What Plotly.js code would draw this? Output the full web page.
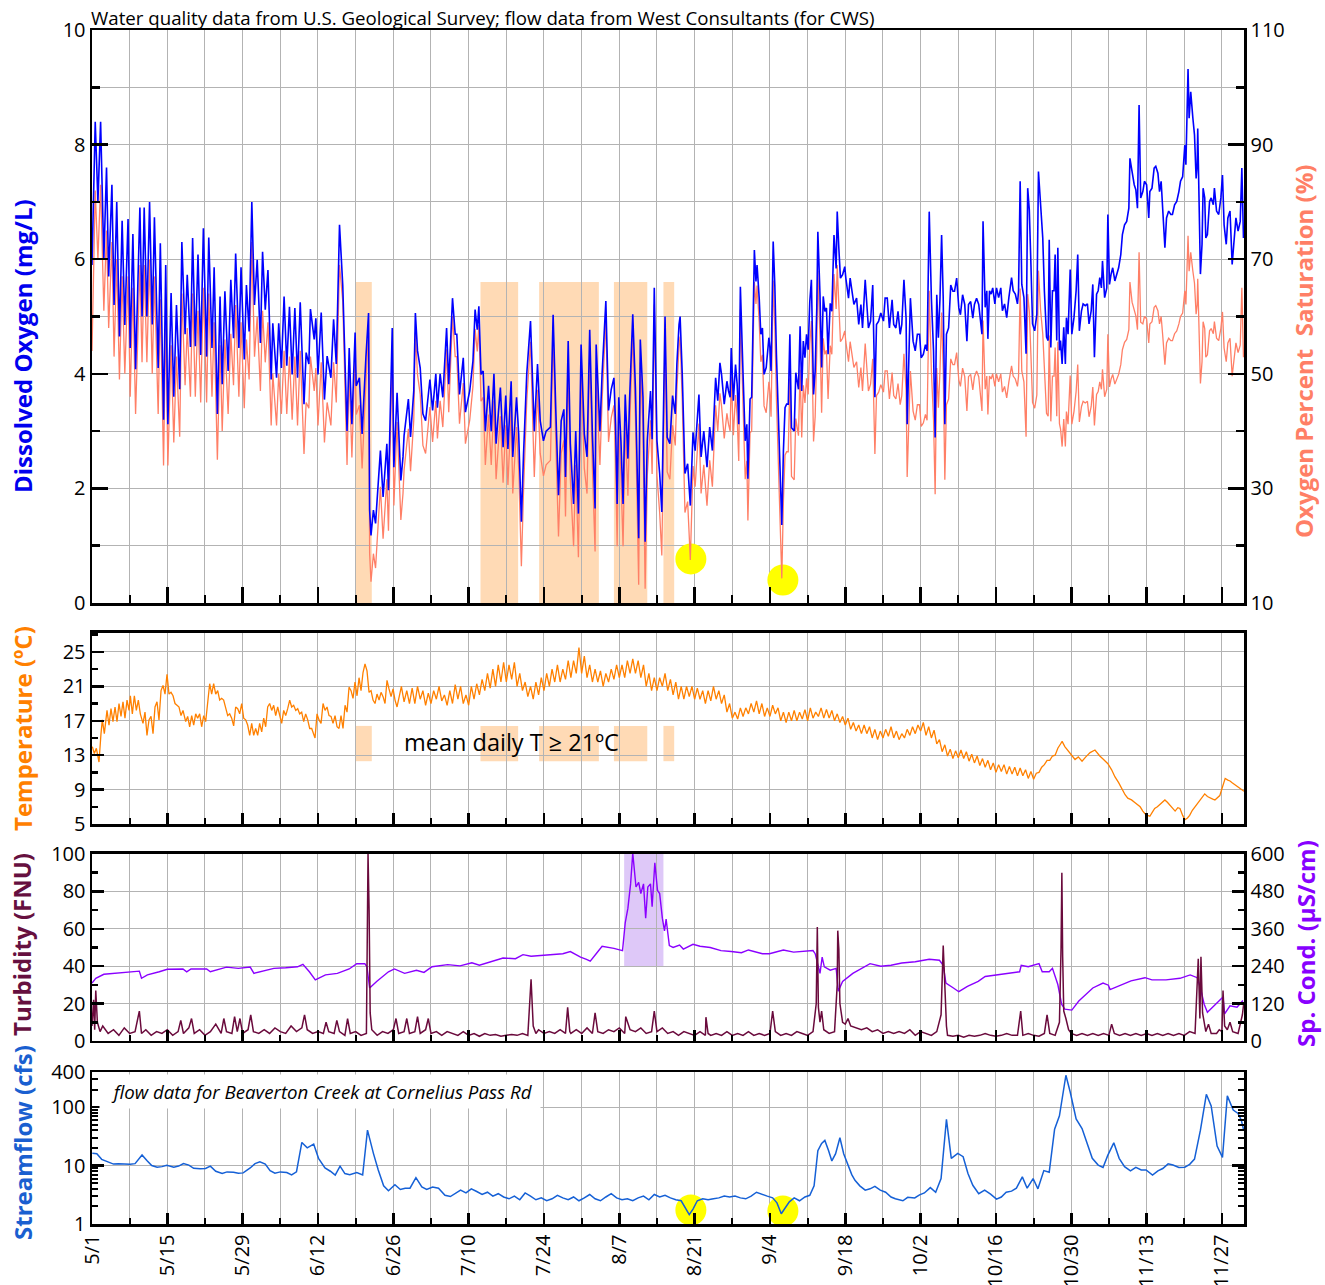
<!DOCTYPE html>
<html><head><meta charset="utf-8">
<script src="https://cdn.plot.ly/plotly-3.0.1.min.js"></script>
<style>html,body{margin:0;padding:0;background:#fff}#chart{width:1325px;height:1285px}</style>
</head><body><div id="chart"></div>
<script>
// ---------- DATA (days after 5/1) ----------
const doDay = [0.0,0.6,1.1,1.6,2.2,2.7,3.1,3.7,4.1,4.6,5.1,5.6,6.1,6.7,7.1,7.6,8.1,8.9,9.3,9.7,10.2,10.7,11.2,11.6,12.3,12.7,13.3,13.7,14.1,14.7,15.2,15.7,16.3,16.7,17.3,17.7,18.3,18.7,19.2,19.7,20.2,20.7,21.3,21.7,22.3,22.7,23.3,23.8,24.2,24.7,25.3,25.8,26.3,26.7,27.3,27.7,28.3,28.7,29.2,29.7,30.2,30.7,31.3,31.7,32.2,32.7,33.3,33.6,34.3,34.7,35.2,35.7,36.2,36.7,37.2,37.7,38.2,38.7,39.4,39.8,40.3,40.6,41.3,41.6,42.0,42.6,43.2,43.7,44.4,44.9,45.4,46.0,
46.6,47.4,47.8,48.3,48.9,49.1,49.7,50.2,50.9,51.4,51.6,51.85,52.3,52.7,53.6,54.1,54.8,55.1,55.8,56.1,56.7,57.4,57.8,58.0,58.8,59.2,59.8,60.1,60.5,61.0,61.5,62.0,62.8,63.3,63.9,64.2,64.7,65.2,65.9,66.3,67.0,67.5,67.8,68.3,69.0,69.4,70.2,70.8,71.2,71.6,71.9,72.3,72.7,73.1,73.7,74.2,74.7,75.1,75.6,75.9,76.4,76.9,77.3,77.9,78.2,78.9,79.3,79.8,80.2,80.8,81.5,82.2,82.8,83.3,83.9,84.4,85.2,85.7,86.2,86.7,87.2,87.7,88.0,88.5,88.9,89.5,89.9,90.4,90.9,91.5,92.0,92.5,93.0,93.5,93.7,94.4,94.8,95.5,96.0,96.5,97.0,97.3,97.6,97.9,98.3,98.7,99.1,99.6,99.9,100.5,101.0,101.6,101.9,102.4,102.8,103.2,103.8,104.1,104.5,105.0,105.5,105.9,106.5,106.9,107.4,107.9,108.4,108.7,109.1,109.3,109.7,110.2,110.7,111.2,111.7,112.1,112.8,113.2,113.7,114.3,114.8,115.3,115.9,116.3,
116.7,117.0,117.5,118.0,118.3,118.6,118.8,119.2,119.6,119.9,120.2,120.5,121.0,121.4,121.7,121.9,122.3,122.6,122.9,123.1,123.4,123.6,124.0,124.3,124.6,124.9,125.3,125.8,126.0,126.2,126.6,126.9,127.2,127.6,127.9,128.2,128.5,128.8,129.1,129.4,129.7,130.0,130.5,130.8,131.3,131.6,131.9,132.2,132.5,132.8,133.1,133.4,133.7,134.1,134.4,134.7,134.9,135.3,135.6,135.9,136.2,136.5,136.8,137.2,137.5,137.9,138.3,138.5,138.8,139.1,139.5,139.9,140.1,140.6,140.9,141.2,141.6,142.1,142.5,142.9,143.2,143.7,144.1,144.3,144.7,
145.1,145.5,145.8,146.2,146.6,147.1,147.4,147.8,148.2,148.7,149.0,149.4,149.8,150.2,150.5,150.9,151.3,151.5,151.9,152.1,152.6,153.0,153.4,153.8,154.1,154.5,154.9,155.2,155.6,156.0,156.4,156.7,157.0,157.3,157.6,157.9,158.2,158.5,158.8,159.2,159.6,160.0,160.3,160.7,161.1,161.4,161.8,162.2,162.6,162.9,163.3,163.7,164.0,164.4,164.8,
165.4,165.6,166.0,166.3,166.5,166.8,167.1,167.4,167.8,168.1,168.5,168.9,169.2,169.6,170.0,170.4,170.9,171.2,171.6,172.0,172.2,172.5,172.8,173.2,173.6,173.9,174.2,174.5,174.8,175.2,175.6,175.9,176.3,176.7,177.0,177.4,177.7,177.9,178.2,178.5,178.8,179.0,179.3,179.5,179.8,180.0,180.3,180.6,180.9,181.1,181.4,181.8,182.1,182.5,182.9,183.2,183.5,183.9,184.2,184.6,185.0,185.3,185.7,186.0,186.3,186.7,187.0,187.3,187.6,187.8,188.2,188.6,188.8,189.1,189.4,189.7,190.1,190.4,190.8,191.2,191.5,191.9,192.3,192.7,192.9,193.3,193.7,194.0,194.3,194.6,194.9,195.3,195.6,196.0,196.4,196.6,197.0,197.4,197.7,198.1,198.4,198.7,199.0,199.4,199.7,200.1,200.5,200.8,201.2,201.6,202.0,202.3,202.7,203.1,203.3,203.7,203.9,204.2,204.6,204.9,205.2,205.4,205.5,205.8,206.0,206.3,206.5,206.8,207.0,207.3,207.7,208.0,208.4,208.6,209.0,209.4,209.8,210.1,210.4,210.8,211.1,211.5,211.9,212.2,212.6,213.0,213.4,213.7,214.0];

// Dissolved oxygen, mg/L
const doVal = [5.9,8.4,7.0,8.4,6.0,7.6,5.7,7.3,5.2,7.0,4.65,6.67,4.85,6.7,4.45,6.44,4.08,6.9,5.0,6.9,5.0,7.0,4.86,6.73,4.1,6.28,3.2,5.9,3.12,5.41,3.6,5.2,3.73,6.3,4.69,5.73,4.47,6.37,4.48,6.08,4.33,6.54,4.3,6.38,4.45,5.86,3.3,5.35,3.82,5.44,4.05,5.64,4.62,6.1,4.45,5.86,4.25,5.55,4.74,7.0,5.2,5.99,4.54,6.13,5.12,5.81,3.9,4.88,3.93,4.88,4.1,5.35,4.14,5.17,3.99,5.15,3.93,5.25,3.47,4.37,4.17,5.13,4.6,4.97,3.99,5.07,3.55,4.31,3.93,4.95,4.17,6.6,
5.55,3.0,4.45,3.12,4.72,3.79,3.93,2.95,4.28,5.06,1.62,1.18,1.62,1.39,2.66,1.85,2.78,1.97,4.8,2.37,3.67,2.14,2.55,2.92,3.56,2.9,3.7,5.06,4.4,4.1,3.3,3.18,3.9,3.36,4.0,3.41,4.0,3.59,4.8,3.82,5.32,4.69,4.69,3.64,4.28,3.33,3.7,4.22,5.12,4.77,5.18,3.99,4.05,3.0,3.79,3.0,4.0,2.78,3.41,3.76,2.72,3.62,2.69,3.87,2.55,3.59,2.95,1.42,2.6,4.0,4.92,3.0,4.17,3.18,2.83,3.0,3.07,5.03,3.36,1.88,3.18,3.38,2.2,4.57,2.78,1.73,3.0,1.56,4.51,2.95,2.55,4.77,2.95,1.65,4.51,3.0,4.0,5.27,3.36,3.73,3.93,3.12,1.73,3.59,2.83,1.73,3.64,2.52,3.53,5.04,3.73,1.13,4.6,3.59,1.07,2.83,3.7,2.86,5.5,2.83,2.26,1.59,5.0,2.89,2.78,3.62,3.3,4.17,4.86,5.0,3.99,2.26,2.43,1.7,2.98,2.66,3.64,2.55,3.0,2.37,3.07,2.66,3.93,3.53,
4.19,3.99,3.47,3.87,3.70,3.59,4.45,3.53,4.16,3.82,3.12,5.52,3.99,2.83,3.12,2.17,3.56,3.59,5.09,6.16,5.61,5.90,5.32,4.69,4.80,3.99,4.11,4.63,4.45,4.05,6.31,5.55,4.34,3.18,2.08,1.36,2.66,3.41,3.47,3.47,4.69,3.06,3.0,4.02,3.73,4.83,3.70,4.57,4.28,4.69,4.42,5.26,5.64,3.64,4.05,5.15,6.48,5.38,4.11,5.35,5.09,5.15,4.34,5.23,5.09,6.42,5.84,6.83,6.19,5.67,5.73,5.87,5.67,5.32,5.67,5.50,5.21,5.32,4.86,5.21,4.80,5.64,5.03,4.80,4.92,
5.55,3.59,4.86,4.92,5.06,4.92,5.32,5.32,4.80,5.29,4.86,4.80,5.09,4.69,4.86,5.64,4.97,3.12,4.97,5.32,4.57,4.40,4.69,4.69,4.28,4.34,4.51,4.40,6.83,5.32,4.40,2.89,5.38,4.63,5.32,6.42,5.32,3.12,4.69,4.80,5.55,5.44,5.44,5.67,5.15,5.03,5.38,5.21,4.57,5.21,5.26,4.97,5.21,5.32,5.21,
4.69,6.66,5.16,5.45,4.61,5.45,5.39,5.50,5.22,5.50,5.33,5.50,5.10,5.22,4.98,5.33,5.68,5.45,5.39,5.22,5.45,7.36,5.56,5.33,4.35,7.24,6.86,5.91,4.87,4.75,5.04,7.53,6.89,6.37,5.45,4.64,4.58,6.34,4.46,5.45,5.45,6.08,4.58,6.20,4.41,4.58,4.17,4.81,4.17,4.98,4.69,5.82,4.69,4.98,5.45,6.08,4.75,5.10,5.22,5.19,5.22,4.87,5.10,5.56,4.29,5.39,5.45,5.68,5.50,5.97,5.33,5.50,6.78,5.56,5.74,5.85,5.62,5.74,5.85,6.08,6.43,6.60,6.66,6.89,7.76,7.53,7.30,7.21,6.89,8.69,7.07,7.18,7.36,7.30,6.72,7.18,7.24,7.59,7.62,7.50,7.18,7.36,6.89,6.20,6.72,6.84,6.78,6.78,6.95,7.01,7.18,7.36,7.44,7.99,7.65,9.32,8.46,8.92,8.46,8.17,7.41,7.65,8.28,7.07,5.74,6.26,7.24,7.07,6.37,6.43,7.01,7.07,6.95,7.24,6.84,6.78,7.07,7.47,6.60,6.26,6.72,6.84,5.91,6.26,6.72,6.49,6.66,7.59,6.37];

// Oxygen percent saturation, %
const satPct = [54,82,70,83,61,75,58,73,53,70,49,67,50,67,46,65,43,69,52,69,52,70,50,67,43,63,34,60,34,55,38,53,39,64,48,58,46,64,46,61,45,65,45,64,46,59,35,55,40,56,43,57,48,62,46,59,44,56,49,73,53,60,47,61,52,59,41,50,41,50,43,54,43,53,42,53,41,54,36,45,44,53,47,51,41,52,38,45,41,52,45,69,
62.7,34.1,50.3,35.4,53.4,42.9,44.5,33.5,48.4,57.2,18.6,13.7,18.6,16.1,30.3,21.2,31.6,22.6,54.3,27,41.6,24.5,29.1,33.2,40.4,33,41.9,57.2,49.8,46.4,37.5,36.1,44.2,38.1,45.3,38.7,45.3,40.7,54.3,43.3,60.1,53,53,41.3,48.4,37.8,41.9,47.8,57.8,53.9,58.5,45.2,45.9,34.1,42.9,34.1,45.3,31.6,38.7,42.6,31,41,30.6,43.8,29.1,40.7,33.5,16.4,29.6,45.3,55.6,32,47.2,36.1,32.2,34.1,34.9,56.8,38.1,21.6,36.1,38.4,25.1,51.7,31.6,19.9,34.1,18,51,33.5,29.1,53.9,33.5,19,51,34.1,45.3,59.5,38.1,42.3,44.5,35.4,19.9,40.7,32.2,19.9,41.3,28.7,40,56.9,42.3,13.2,52,40.7,12.5,32.2,41.9,32.5,62.1,32.2,25.8,18.3,56.5,32.9,31.6,41,37.5,47.2,54.9,56.5,45.2,25.8,27.7,17.5,33.9,30.3,41.3,29.1,34.1,27,34.9,30.3,44.5,40,
46.6,44.4,38.7,43.1,41.2,40,49.5,39.3,46.3,42.5,34.8,61.2,44.4,31.6,34.8,24.4,39.7,40,56.5,66,62.2,65.4,59,52.1,53.3,44.4,43.2,48.6,46.7,42.5,66.3,58.3,45.6,33.4,21.8,14.3,27.9,35.8,36.4,36.4,49.2,32.1,31.5,42.2,39.2,50.7,38.9,48,44.9,49.2,46.4,55.2,59.2,38.2,42.5,54.1,68,56.5,43.2,56.2,53.4,54.1,45.6,54.9,53.4,67.4,61.3,69,62,55.6,56.2,57.5,55.6,52.1,55.6,53.9,51.1,52.1,47.6,51.1,47,55.3,49.3,47,48.2,
52.6,36,46.2,46.8,48.1,46.8,50.5,50.5,45.6,50.2,46.2,45.6,48.3,44.6,46.2,53.5,47.2,32,47.2,50.5,43.5,41.9,44.6,44.6,40.8,41.4,42.9,41.9,64.5,50.5,41.9,29,51,44.1,50.5,60.7,50.5,31.5,44.6,45.6,52.6,51.6,51.6,53.7,48.9,47.8,51,49.5,43.5,49.5,49.9,47.2,49.5,50.5,49.5,
43.5,59.3,47.3,49.6,42.9,49.6,49.1,50,47.8,50,48.6,50,46.8,47.8,45.8,48.6,51.4,49.6,49.1,47.8,49.6,64.9,50.5,48.6,39,63.9,60.9,53.3,45,44,46.3,68,61.1,57,49.6,43.1,42.6,56.7,41.7,49.6,49.6,54.6,42.6,55.6,41.3,40.4,37.3,42.1,37.3,43.4,41.2,49.7,41.2,43.4,46.9,51.6,41.6,44.3,45.2,44.9,45.2,42.5,44.3,47.7,41,46.4,46.9,48.6,47.3,50.8,46,47.3,56.9,47.7,49.1,49.9,48.2,49.1,49.9,51.6,54.2,55.5,56,57.7,66,62.5,60.8,60.1,57.7,71.2,59,58.7,60,59.6,55.4,58.7,59.1,61.6,61.9,61,58.7,60,56.6,51.6,55.4,56.2,55.8,55.8,57,57.5,58.7,60,60.6,64.5,62.1,74.1,67.9,71.2,67.9,65.8,60.4,62.1,66.6,57.9,48.3,52.1,59.1,57.9,52.9,53.3,57.5,57.9,57,59.1,56.2,55.8,57.9,60.8,54.5,52.1,55.4,56.2,49.6,52.1,55.4,53.7,55,65,52.9];

// Water temperature, deg C  [day, value]
const temperature = [[0.06,14.0],[0.43,13.2],[0.81,13.8],[1.30,12.2],[1.67,15.5],[1.92,17.1],[2.29,15.5],[2.54,17.3],[2.79,18.2],[3.16,16.5],[3.53,18.4],[3.90,16.9],[4.28,18.6],[4.65,16.9],[5.02,19.0],[5.39,17.5],[5.76,19.2],[6.13,17.3],[6.51,19.4],[6.88,18.2],[7.13,19.9],[7.50,17.8],[7.87,19.9],[8.24,18.2],[8.61,19.4],[8.98,17.8],[9.48,16.7],[9.85,18.0],[10.22,15.3],[10.59,17.1],[10.97,17.5],[11.34,15.5],[11.71,18.6],[12.08,19.2],[12.45,17.1],[12.83,20.5],[13.20,21.1],[13.57,20.1],[13.94,22.4],[14.31,20.1],[14.68,20.3],[15.06,19.9],[15.43,19.0],[15.80,18.8],[16.17,18.6],[16.54,17.6],[16.91,18.2],[17.41,16.9],[17.78,17.5],[18.15,16.3],[18.53,17.6],[18.90,16.5],[19.27,17.8],[19.64,17.3],[20.01,17.8],[20.38,16.3],[20.76,17.6],[21.13,16.9],[21.50,19.4],[21.87,21.3],[22.24,20.1],[22.61,21.3],[22.99,20.1],[23.36,20.5],[23.73,19.4],[24.10,19.6],[24.47,19.4],[24.85,18.6],[25.22,17.6],[25.59,17.8],[25.96,17.3],[26.33,16.4],[26.70,18.6],[27.08,18.4],[27.45,17.8],[27.82,19.0],[28.19,17.3],[28.56,17.1],[28.93,16.5],[29.31,15.3],[29.68,16.7],[30.05,15.3],[30.42,16.1],[30.79,15.3],[31.16,16.7],[31.54,15.7],[31.91,17.3],[32.28,16.3],[32.65,18.6],[33.02,19.0],[33.40,18.2],[33.77,18.8],[34.14,17.6],[34.51,18.6],[34.88,17.8],[35.25,16.7],[35.63,18.2],[36.00,17.6],[36.37,18.4],[36.74,19.4],[37.11,18.6],[37.48,18.8],[37.86,18.2],[38.23,18.4],[38.60,17.8],[38.97,18.0],[39.34,16.9],[39.71,17.8],[40.09,17.1],[40.46,16.1],[40.83,16.1],[41.20,15.5],[41.45,15.0],[41.82,17.8],[42.19,17.1],[42.57,16.7],[42.94,19.0],[43.31,18.2],[43.68,18.6],[44.05,17.6],[44.42,17.5],[44.80,16.7],[45.17,17.6],[45.54,16.3],[45.91,16.1],[46.28,17.6],[46.65,16.1],[47.03,18.8],[47.40,18.0],[47.77,20.9],[48.14,20.5],[48.51,19.6],[48.88,21.5],[49.26,19.9],[49.63,22.0],[50.00,20.5],[50.37,22.6],[50.74,23.6],[51.11,22.8],[51.49,20.3],[51.86,20.5],[52.23,19.4],[52.60,19.0],[52.97,20.1],[53.35,19.4],[53.72,20.3],[54.09,19.8],[54.46,19.0],[54.83,21.7],[55.20,20.7],[55.58,19.8],[55.95,20.7],[56.32,19.4],[56.69,18.6],
[57,19.5],[57.5,21.0],[58,19.2],[58.5,20.5],[59,19.0],[59.5,20.8],[60,19.0],[60.5,21.0],[61,19.5],[61.5,20.5],[62,18.8],[62.5,20.2],[63,19.0],[63.5,20.5],[64,19.5],[64.5,21.0],[65,19.3],[65.5,20.0],[66,18.8],[66.5,20.5],[67,19.0],[67.5,21.2],[68,19.5],[68.5,21.0],[69,19.0],[69.5,20.0],[70,18.8],[70.5,21.0],[71,19.5],[71.5,21.3],[72,20.0],[72.5,21.8],[73,20.5],[73.5,22.5],[74,20.8],[74.5,23.0],[75,21.0],[75.5,23.5],[76,21.5],[76.5,23.8],[77,21.5],[77.5,23.5],[78,21.8],[78.5,23.8],[79,21.0],[79.5,22.5],[80,20.5],[80.5,21.5],[81,19.8],[81.5,21.0],[82,19.5],[82.5,21.5],[83,20.0],[83.5,22.0],[84,20.5],[84.5,22.5],[85,21.0],[85.5,23.0],[86,21.5],[86.5,23.5],[87,21.5],[87.5,23.0],[88,21.8],[88.5,24.0],[89,22.0],[89.5,24.0],[90,22.5],[90.5,25.5],[91,22.5],[91.5,24.5],[92,22.0],[92.5,23.5],[93,21.5],[93.5,23.0],[94,21.5],[94.5,22.8],[95,21.0],[95.5,22.5],[96,21.5],[96.5,23.0],[97,21.8],[97.5,23.5],[98,22.0],[98.5,23.5],[99,22.0],[99.5,24.0],[100,22.5],[100.5,24.2],[101,22.5],[101.5,24.0],[102,22.0],[102.5,23.5],[103,21.0],[103.5,22.5],[104,20.5],[104.5,22.0],[105,20.5],[105.5,22.0],[106,21.0],[106.5,22.5],[107,20.5],[107.5,21.8],[108,20.0],[108.5,21.5],[109,19.5],[109.5,21.0],[110,19.5],[110.5,21.0],[111,19.8],[111.5,21.0],[112,19.5],[112.5,20.8],[113,19.5],[113.5,20.5],[114,19.0],[114.5,20.5],[115,19.3],[115.5,21.0],[116,19.5],[116.5,20.5],[117,19.0],[117.5,20.0],[118,18.0],[118.5,19.0],[119,17.3],[119.5,18.0],[120,17.2],[120.5,18.5],[121,17.5],[121.5,18.5],[122,17.8],[122.5,19.0],[123,18.0],[123.5,19.3],[124,17.8],[124.5,19.0],[125,17.5],[125.5,18.5],[126,17.5],[126.5,18.8],[127,17.8],[127.5,18.5],[128,17.0],[128.5,18.0],[129,16.8],[129.5,18.0],[130,17.0],[130.5,18.2],[131,17.0],[131.5,18.0],[132,17.2],[132.5,18.3],[133,17.0],[133.5,18.5],[134,17.3],[134.5,18.0],[135,17.5],[135.5,18.5],[136,17.3],[136.5,18.3],[137,17.3],[137.5,18.2],[138,17.0],[138.5,17.8],[139,16.8],[139.5,17.5],[140,16.5],[140.5,17.3],[141,16.0],[141.5,16.8],[142,15.8],[142.5,16.5],[143,15.5],[143.5,16.5],[144,15.5],[144.5,16.3],[145,15.0],[145.5,16.0],[146,14.8],[146.5,15.8],[147,15.0],[147.5,16.0],[148,15.2],[148.5,16.3],[149,15.0],[149.5,15.8],[150,14.8],[150.5,15.5],[151,15.0],[151.5,16.0],[152,15.3],[152.5,16.3],[153,15.5],[153.5,16.5],[154,15.8],[154.5,16.8],
[155,15.3],[155.5,16.3],[156,15.0],[156.5,15.9],[157,14.3],[157.5,14.8],[158,13.4],[158.5,14.2],[159,12.9],[159.5,13.7],[160,12.6],[160.5,13.5],[161,12.7],[161.5,13.6],[162,12.6],[162.5,13.4],[163,12.3],[163.5,13.1],[164,12.1],[164.5,12.9],[165,11.8],[165.5,12.6],[166,11.6],[166.5,12.4],[167,11.3],[167.5,12.1],[168,11.0],[168.5,11.9],[169,11.1],[169.5,11.9],[170,10.8],[170.5,11.7],[171,10.8],[171.5,11.6],[172,10.6],[172.5,11.5],[173,10.6],[173.5,11.3],[174,10.3],[174.5,11.1],[175,10.2],[175.5,10.9],[176,11.0],[176.5,11.6],[177,11.9],[177.5,12.4],[178,12.4],[178.5,12.9],[179,13.0],[179.5,13.8],[180,14.3],[180.3,14.6],[180.8,14.0],[181.4,13.5],[182,13.0],[182.7,12.5],[183.3,12.8],[184,12.3],[184.7,12.8],[185.5,13.3],[186.4,13.6],[187.3,12.9],[188,12.5],[188.8,12.0],[189.5,11.3],[190.1,10.5],[190.8,9.8],[191.4,9.0],[192,8.4],[192.5,8.0],[193.2,7.8],[193.8,7.5],[194.3,7.2],[194.8,7.0],[195.3,6.5],[195.7,6.2],[196.2,6.0],[196.6,5.9],[197.1,6.4],[197.5,6.8],[198,7.0],[198.5,7.3],[199,7.6],[199.4,7.8],[199.9,7.5],[200.3,7.2],[200.8,6.8],[201.3,6.5],[201.8,6.9],[202.2,6.8],[202.7,6.0],[203.1,5.5],[203.6,5.7],[204,6.0],[204.5,6.6],[205,7.0],[205.5,7.4],[205.9,7.8],[206.4,8.2],[206.8,8.5],[207.3,8.2],[207.8,8.0],[208.3,7.9],[208.7,7.8],[209.2,8.1],[209.6,8.3],[210.1,9.3],[210.6,10.3],[211.1,10.1],[211.5,10.0],[211.9,9.8],[212.5,9.5],[213,9.3],[213.6,9.0],[214.1,8.8]];

// Turbidity, FNU  [day, value]
const turbidity = [[0,8],[0.3,22],[0.5,6],[0.7,27],[1,10],[1.5,5],[2,8],[3,4],[4,6],[5,3],[6,7],[7,4],[8,5],[8.8,16],[9.2,4],[10,6],[11,3],[12,5],[13,4],[14,6],[15,3],[16,5],[16.5,11],[17,4],[18,7],[18.5,12],[19,4],[20,6],[21,3],[22,5],[23,9],[24,4],[24.5,12],[25,5],[26,4],[26.5,13],[27,5],[27.5,12],[28,4],[29,6],[29.5,14],[30,5],[31,4],[32,6],[33,4],[34,7],[35,5],[36,4],[37,8],[38,5],[39,7],[39.5,14],[40,6],[41,4],[42,5],[43,4],[43.5,10],[44,5],[45,4],[45.5,11],[46,5],[47,3],[47.5,12],[48,4],[49,5],[50,3],[51,4],[51.3,100],[51.5,70],[51.7,15],[52,6],[53,3],[54,5],[55,4],[56,6],[56.5,12],[57,4],[58,5],[58.5,12],[59,4],[60,5],[60.5,13],[61,4],[62,6],[62.5,12],[63,4],[64,5],[65,3],[66,5],[67,4],[68,3],[69,5],[70,3],[71,4],[72,2.5],[73,4],[74,3],[75,3.5],[76,2.5],[77,3],[78,3.5],[79,3],[80,4],[81,3],[81.6,33],[82,8],[82.5,4],[83,6],[84,4],[85,5],[86,4],[87,6],[88,4],[88.4,18],[88.8,5],[89,4],[90,6],[91,4],[92,7],[93,4],[93.5,15],[94,5],[95,4],[96,6],[97,5],[98,7],[99,4],[99.2,13],[100,6],[101,5],[102,7],[103,4],[104,5],[104.5,16],[105,5],[106,7],[107,4],[108,5],[109,3],[110,5],[111,4],[112,3],[113,5],[114,3],[114.1,12.7],[114.5,4],[115,3],[116,4],[117,3],[118,5],[119,3],[120,4],[121,3],[122,5],[123,3],[124,4],[125,3],[126,4],[126.5,16],[127,5],[128,3],[129,4],[130,3],[131,5],[132,4],[133,3],[134,5],[134.6,20],[134.8,61],[135,18],[135.3,10],[135.6,16],[136,6],[137,4],[138,5],[138.5,30],[138.6,59],[138.8,49],[139,20],[139.5,10],[140,9],[140.5,12],[141,8],[142,7],[143,6],[144,7],[145,5],[146,6],[147,4],[148,5],[149,4],[150,5],[151,4],[152,6],[153,3],[154,5],[155,4],[156,3],[157,5],[157.8,14],[158.2,51],[158.5,27],[158.8,8],[159,3],[160,2.5],[161,3],[162,2],[163,3],[164,2.5],[165,3],[166,4],[167,3],[168,2.5],[169,3],[170,4],[171,3],[172,3],[172.6,16],[173,3],[174,4],[175,3],[176,2.5],[177,4],[177.5,14],[178,4],[179,3],[179.8,10],[180.1,50],[180.25,90],[180.4,45],[180.6,16],[181,12],[181.5,6],[182,4],[183,3],[184,4],[185,3],[186,4],[187,3],[188,4],[189,3],[189.5,9],[190,4],[191,3],[192,4],[193,3],[194,4],[195,3],[196,4],[197,3],[198,4],[199,3],[200,4],[201,3],[202,4],[203,3],[204,5],[205,4],[205.6,44],[205.9,12],[206.1,45],[206.4,15],[206.8,8],[207,5],[207.5,9],[208,4],[209,4],[209.5,6],[210,5],[210.2,27],[210.5,8],[211,6],[211.5,10],[212,5],[213,4],[213.8,14],[214.05,20]];

// Specific conductance, uS/cm  [day, value]
const conductance = [[0,186],[0.7,201],[2.2,214],[4.4,217],[6.6,222],[8.8,224],[9.2,201],[10.3,212],[12.5,222],[14.0,230],[16.9,231],[17.6,222],[18.4,231],[21.3,231],[22.0,222],[25.0,237],[27.2,233],[29.4,237],[30.1,217],[31.6,224],[33.8,233],[36.0,235],[38.2,238],[39.2,246],[40.4,222],[41.5,196],[43.4,212],[45.6,217],[47.8,231],[49.2,248],[50.7,248],[51.1,238],[51.6,170],[52.9,191],[55.1,222],[56.2,231],[58.1,217],[60.3,227],[61.7,220],[63.2,238],[66.1,245],[68.4,241],[70.6,251],[72.0,243],[74.2,254],[76.4,266],[78.7,264],[80.1,277],[81.6,272],[83.1,274],[85.3,277],[87.5,280],[88.9,287],[90.8,269],[91.9,262],[92.6,256],[93.7,280],[94.8,304],[97.0,297],[98.6,290],[99.1,379],[99.6,426],[100.1,504],[100.5,603],[101.1,494],[101.6,509],[102.0,473],[102.5,504],[102.9,394],[103.3,494],[103.8,504],[104.1,431],[104.6,572],[105.1,483],[105.5,473],[106.0,394],[106.4,353],[106.7,391],[107.3,306],[108.0,300],[109.2,308],[109.9,295],[111.7,310],[113.0,304],[114.9,300],[116.9,290],[118.8,287],[120.7,283],[122.0,292],[123.3,287],[124.6,280],[125.9,280],[128.5,292],[130.4,285],[132.4,287],[134.0,290],[134.4,280],[135.0,243],[135.3,217],[135.7,269],[136.1,238],[137.2,227],[138.3,233],[138.7,160],[139.5,191],[141.4,217],[143.4,238],[144.6,248],[146.6,240],[148.5,243],[150.5,250],[153.0,254],[155.6,262],[157.5,259],[158.2,243],[158.7,186],[160.1,170],[161.1,158],[162.7,175],[164.7,191],[166.0,207],[167.9,212],[169.8,217],[172.4,222],[172.7,243],[174.0,238],[176.0,248],[176.6,222],[177.9,222],[178.5,233],[179.5,181],[180.2,118],[180.8,102],[182.1,99],[183.4,128],[184.7,149],[186.0,170],[187.9,186],[188.9,179],[189.2,165],[190.5,175],[193.1,193],[195.7,203],[197.0,196],[199.6,196],[202.2,201],[204.1,212],[205.4,203],[206.0,170],[206.7,118],[207.3,92],[208.6,113],[210.2,141],[210.5,87],[211.5,113],[212.8,108],[213.9,130]];

// Streamflow, cfs  [day, value]
const streamflow = [[0.06,16.2],[0.9,16],[1.8,12.8],[4.0,10.6],[4.9,10.8],[6.2,10.7],[7.1,10.5],[8.0,10.8],[9.3,15.2],[10.2,12.2],[11.1,10],[12.1,9.4],[13.0,9.6],[13.9,10.1],[15.2,9.4],[16.1,9.8],[17.0,10.8],[18.0,10.2],[18.9,9.0],[20.1,8.8],[21.1,8.9],[22.0,9.8],[23.0,8.0],[24.2,7.3],[25.1,7.8],[26.3,7.7],[27.2,7.4],[28.1,7.5],[29.4,9.1],[30.3,10.8],[31.2,11.6],[32.2,10.6],[33.1,8.2],[34.0,7.4],[35.0,7.8],[36.2,7.6],[37.1,6.9],[38.0,7.8],[39.0,24.9],[40.0,20.1],[41.2,23.3],[42.1,13.3],[43.3,9.1],[44.3,8.0],[45.2,6.9],[46.1,9.8],[47.0,7.3],[47.9,7.0],[49.2,7.6],[50.3,6.9],[51.2,40.4],[52.3,16.2],[53.2,8.4],[54.2,4.5],[55.1,3.7],[56.3,4.7],[57.3,3.9],[58.2,4.1],[59.1,4.1],[60.2,6.2],[61.3,4.3],[62.2,3.9],[63.3,4.3],[64.4,4.1],[65.6,3.1],[66.6,2.95],[67.5,3.3],[68.5,3.8],[69.5,3.4],[70.5,4.0],[71.5,3.6],[72.5,3.2],[73.5,3.5],[74.5,3.0],[75.5,3.3],[76.5,2.9],[77.5,2.7],[78.5,3.0],[79.5,2.6],[80.5,3.4],[81.5,3.0],[82.5,2.6],[83.5,2.8],[84.5,2.5],[85.5,2.7],[86.5,3.1],[87.5,2.8],[88.5,2.6],[89.5,2.9],[90.5,2.5],[91.5,2.8],[92.5,3.2],[93.5,2.7],[94.5,2.5],[95.5,2.9],[96.5,3.3],[97.5,2.8],[98.5,2.6],[99.5,2.7],[100.5,2.5],[101.5,2.8],[102.5,3.0],[103.5,2.6],[104.5,3.2],[105.5,2.9],[106.5,3.1],[107.5,2.8],[108.5,2.6],[109.5,2.5],[110.3,1.9],[111.0,1.45],[111.7,1.8],[112.5,2.5],[113.5,2.7],[114.5,2.6],[115.5,2.7],[116.5,2.8],[117.5,3.0],[118.5,2.9],[119.5,3.0],[120.5,2.8],[121.5,2.7],[122.5,3.0],[123.5,3.5],[124.5,3.2],[125.5,3.0],[126.5,2.8],[127.3,2.3],[128.1,1.5],[128.8,1.9],[129.6,2.4],[130.5,2.8],[131.5,2.5],[132.5,2.9],[133.4,3.1],[134.2,4.5],[134.9,18],[135.6,24],[136.2,27],[136.9,18],[137.5,12],[138.2,16],[139.0,30],[139.7,16],[140.5,10],[141.2,7],[141.8,5.6],[142.7,4.5],[143.7,3.8],[144.6,4.0],[145.5,4.4],[146.5,3.8],[147.5,3.5],[148.5,2.9],[149.3,2.7],[150.1,2.57],[150.7,2.5],[151.6,2.86],[152.9,2.8],[153.8,3.15],[154.7,3.4],[155.8,4.2],[156.8,3.5],[157.8,6.0],[158.8,62],[159.7,13.3],[160.9,16.2],[161.9,14.2],[162.8,7.3],[163.7,4.6],[164.8,3.3],[165.9,3.8],[167.0,3.25],[168.1,2.67],[169.0,2.9],[169.9,3.5],[170.9,3.65],[171.8,4.1],[172.9,6.4],[173.8,4.1],[174.9,6.0],[175.8,4.0],[176.9,8.2],[177.9,7.7],[178.9,42],[179.8,71],[181.0,352],[181.8,182],[182.9,63],[184.0,43],[184.9,24],[185.9,13.3],[187.0,10.2],[187.9,9.3],[188.8,15.1],[189.9,24.5],[190.9,13.3],[191.9,9.6],[193.0,8.1],[194.0,9.3],[195.0,8.4],[195.9,8.4],[197.1,6.9],[198.1,8.1],[199.0,8.9],[200.0,10.7],[200.9,10.2],[202.0,9.3],[203.1,9.4],[204.0,10.5],[204.9,12.9],[206.0,40.4],[207.1,166],[208.0,105],[209.1,21.6],[210.1,13.8],[211.0,156],[212.1,89],[213.0,78],[213.6,60],[214.05,40]];

// Highlighted low-DO events (day, DO-sat %, flow cfs)
const lowEventDay = [111.3, 128.4];
const lowEventSat = [17.7, 14.0];
const lowEventFlow = [1.74, 1.67];

// Periods with mean daily T >= 21 C (start day, end day)
const warmPeriods = [[49,52],[72.2,79.2],[83.1,94.2],[97,103.2],[106.2,108.2]];
// Period of elevated conductance
const condPeriod = [98.9, 106.2];

const xTickLabels = ['5/1','5/15','5/29','6/12','6/26','7/10','7/24','8/7','8/21','9/4','9/18','10/2','10/16','10/30','11/13','11/27'];

// ---------- helpers ----------
const T0 = Date.UTC(2018,4,1);
function dt(d){ return new Date(T0 + Math.round(d*864e5)).toISOString().replace('T',' ').slice(0,19); }
const DAY = 864e5;
const GRID = '#b3b3b3';
const FONT = 'Open Sans, Noto Sans, sans-serif';

const xTickVals = xTickLabels.map((_,i)=>dt(i*14));

function xaxisCfg(anchor, last, big){
  return {
    type:'date', anchor:anchor, range:[dt(0), dt(214.1)],
    tickmode:'array', tickvals:xTickVals, ticktext:xTickLabels,
    showticklabels:last, tickangle:-90, tickfont:{size:20,family:FONT,color:'#000'},
    ticks:'inside', ticklen: big?16:11, tickwidth:2.5, tickcolor:'#000',
    showgrid:true, gridcolor:GRID, gridwidth:1,
    showline:true, linecolor:'#000', linewidth:2.5, mirror:true, zeroline:false,
    minor:{tickmode:'linear', tick0:dt(0), dtick:7*DAY, ticks:'inside', ticklen: big?8:6, tickwidth:2, tickcolor:'#000', showgrid:true, gridcolor:GRID, gridwidth:1}
  };
}
function yBase(){
  return {ticks:'inside', tickwidth:2.5, tickcolor:'#000', showline:true, linecolor:'#000', linewidth:2.5,
    zeroline:false, tickfont:{size:20,family:FONT,color:'#000'}, gridcolor:GRID, gridwidth:1};
}

const D1=[0.5201,1.0], D2=[0.3350,0.4950], D3=[0.1533,0.3099], D4=[0,0.1273];

const layout = {
  width:1325, height:1285, margin:{l:92,r:81,t:30,b:61},
  paper_bgcolor:'#fff', plot_bgcolor:'#fff', showlegend:false,
  font:{family:FONT, size:20, color:'#000'},
  xaxis: xaxisCfg('y', false, true),
  xaxis2: Object.assign(xaxisCfg('y3', false, false), {matches:'x'}),
  xaxis3: Object.assign(xaxisCfg('y4', false, false), {matches:'x'}),
  xaxis4: Object.assign(xaxisCfg('y6', true, false), {matches:'x'}),
  yaxis: Object.assign(yBase(), {domain:D1, anchor:'x', side:'right', range:[10,110], tickmode:'linear', tick0:10, dtick:20, ticklen:16, showgrid:false,
    minor:{tickmode:'linear', tick0:10, dtick:10, ticks:'inside', ticklen:8, tickwidth:2.5, tickcolor:'#000', showgrid:false}}),
  yaxis2: Object.assign(yBase(), {overlaying:'y', anchor:'x', side:'left', range:[0,10], tickmode:'linear', tick0:0, dtick:2, ticklen:16, showgrid:true,
    minor:{tickmode:'linear', tick0:0, dtick:1, ticks:'inside', ticklen:8, tickwidth:2.5, tickcolor:'#000', showgrid:true, gridcolor:GRID, gridwidth:1}}),
  yaxis3: Object.assign(yBase(), {domain:D2, anchor:'x2', side:'left', range:[5,27.2], tickmode:'linear', tick0:5, dtick:4, ticklen:12, showgrid:true, mirror:true,
    minor:{tickmode:'linear', tick0:5, dtick:2, ticks:'inside', ticklen:6, tickwidth:2.5, tickcolor:'#000', showgrid:false}}),
  yaxis4: Object.assign(yBase(), {domain:D3, anchor:'x3', side:'right', range:[0,600], tickmode:'linear', tick0:0, dtick:120, ticklen:12, showgrid:false,
    minor:{tickmode:'linear', tick0:0, dtick:60, ticks:'inside', ticklen:6, tickwidth:2.5, tickcolor:'#000', showgrid:false}}),
  yaxis5: Object.assign(yBase(), {overlaying:'y4', anchor:'x3', side:'left', range:[0,100], tickmode:'linear', tick0:0, dtick:20, ticklen:12, showgrid:true,
    minor:{tickmode:'linear', tick0:0, dtick:10, ticks:'inside', ticklen:6, tickwidth:2.5, tickcolor:'#000', showgrid:false}}),
  yaxis6: Object.assign(yBase(), {domain:D4, anchor:'x4', side:'left', type:'log', range:[0, Math.log10(400)],
    tickmode:'array', tickvals:[1,10,100,400], ticktext:['1','10','100','400'], ticklen:12, showgrid:true, mirror:'ticks',
    minor:{tickmode:'array', tickvals:[2,3,4,5,6,7,8,9,20,30,40,50,60,70,80,90,200,300], ticks:'inside', ticklen:6, tickwidth:2, tickcolor:'#000', showgrid:false}}),
  shapes: [],
  annotations: []
};

warmPeriods.forEach(p=>{
  layout.shapes.push({type:'rect', xref:'x', yref:'y', x0:dt(p[0]), x1:dt(p[1]), y0:10, y1:66, fillcolor:'#ffdab5', line:{width:0}, layer:'below'});
  layout.shapes.push({type:'rect', xref:'x2', yref:'y3', x0:dt(p[0]), x1:dt(p[1]), y0:12.3, y1:16.4, fillcolor:'#ffdab5', line:{width:0}, layer:'below'});
});
layout.shapes.push({type:'rect', xref:'x3', yref:'y4', x0:dt(condPeriod[0]), x1:dt(condPeriod[1]), y0:240, y1:600, fillcolor:'#dec8f8', line:{width:0}, layer:'below'});

function px2x(px){ return (px-92)/1152; }
function py2y(py){ return (1224-py)/1194; }
function vtitle(text, color, px, py){
  return {xref:'paper', yref:'paper', x:px2x(px), y:py2y(py), text:'<b>'+text+'</b>', textangle:-90, showarrow:false,
    font:{size:24, family:FONT, color:color}, xanchor:'center', yanchor:'middle'};
}
layout.annotations.push(
  vtitle('Dissolved Oxygen (mg/L)', '#0000ee', 22, 346),
  vtitle('Oxygen Percent\u00a0 Saturation (%)', '#ff7f66', 1303, 351),
  vtitle('Temperature (ºC)', '#ff8000', 22, 729),
  vtitle('Turbidity (FNU)', '#66103f', 22, 945),
  vtitle('Sp. Cond. (µS/cm)', '#8800ff', 1305, 944),
  vtitle('Streamflow (cfs)', '#1a5fd0', 22, 1143),
  {xref:'paper', yref:'paper', x:px2x(89), y:py2y(17), xanchor:'left', yanchor:'middle', showarrow:false,
   text:'Water quality data from U.S. Geological Survey; flow data from West Consultants (for CWS)', font:{size:18.7, family:FONT, color:'#000'}},
  {xref:'x2', yref:'y3', x:dt(57.7), y:14.5, xanchor:'left', yanchor:'middle', showarrow:false,
   text:'mean daily T ≥ 21ºC', font:{size:23.5, family:FONT, color:'#000'}},
  {xref:'paper', yref:'paper', x:px2x(99), y:py2y(1091), xanchor:'left', yanchor:'middle', showarrow:false,
   text:'<i>\u00a0\u00a0flow data for Beaverton Creek at Cornelius Pass Rd\u00a0</i>', font:{size:18.7, family:FONT, color:'#000'},
   bgcolor:'#fff', borderpad:4}
);

const traces = [
  {type:'scatter', mode:'markers', x:lowEventDay.map(dt), y:lowEventSat, xaxis:'x', yaxis:'y', marker:{size:31, color:'#ffff00'}, hoverinfo:'skip'},
  {type:'scatter', mode:'lines', x:doDay.map(dt), y:satPct, xaxis:'x', yaxis:'y', line:{color:'#ff7f66', width:1.3}},
  {type:'scatter', mode:'lines', x:doDay.map(dt), y:doVal, xaxis:'x', yaxis:'y2', line:{color:'#0000ff', width:1.6}},
  {type:'scatter', mode:'lines', x:temperature.map(p=>dt(p[0])), y:temperature.map(p=>p[1]), xaxis:'x2', yaxis:'y3', line:{color:'#ff8000', width:1.3}},
  {type:'scatter', mode:'lines', x:conductance.map(p=>dt(p[0])), y:conductance.map(p=>p[1]), xaxis:'x3', yaxis:'y4', line:{color:'#8a00ff', width:1.4}},
  {type:'scatter', mode:'lines', x:turbidity.map(p=>dt(p[0])), y:turbidity.map(p=>p[1]), xaxis:'x3', yaxis:'y5', line:{color:'#6a0a3c', width:1.5}},
  {type:'scatter', mode:'markers', x:lowEventDay.map(dt), y:lowEventFlow, xaxis:'x4', yaxis:'y6', marker:{size:31, color:'#ffff00'}, hoverinfo:'skip'},
  {type:'scatter', mode:'lines', x:streamflow.map(p=>dt(p[0])), y:streamflow.map(p=>p[1]), xaxis:'x4', yaxis:'y6', line:{color:'#1560d6', width:1.5}}
];

Plotly.newPlot('chart', traces, layout, {staticPlot:true, displayModeBar:false});
</script></body></html>
